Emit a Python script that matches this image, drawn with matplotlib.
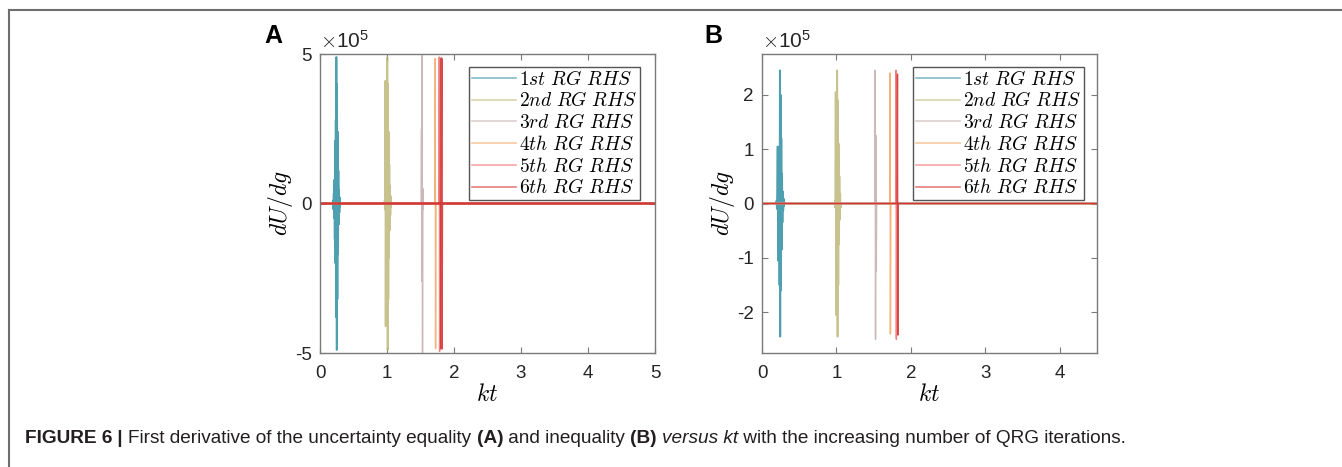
import matplotlib
matplotlib.use('Agg')
import matplotlib.pyplot as plt
from matplotlib.lines import Line2D

plt.rcParams['font.family'] = ['Liberation Sans', 'DejaVu Sans']
plt.rcParams['mathtext.fontset'] = 'cm'

SCALE = 1e5

# panel A: derivative of the uncertainty equality (values in units of 1e5)
kt_a1 = [0, 0.190, 0.195, 0.200, 0.205, 0.210, 0.215, 0.220, 0.225, 0.230, 0.235, 0.240,
         0.245, 0.250, 0.255, 0.260, 0.265, 0.270, 0.275, 0.280, 0.285, 0.290, 0.295,
         0.300, 0.305, 5.0]
du_a1 = [0, 0, 0.1, -0.2, 0.35, -0.5, 0.8, -1.2, 2.1, -2.0, 2.8, -3.8,
         4.9, -4.9, 4.0, -3.2, 2.4, -1.7, 1.1, -0.7, 0.45, -0.3, 0.2,
         -0.1, 0, 0]
kt_a2 = [0, 0.960, 0.965, 0.970, 0.975, 0.980, 0.985, 0.990, 0.995, 1.000, 1.005, 1.010,
         1.015, 1.020, 1.025, 1.030, 1.035, 1.040, 1.045, 1.050, 1.055, 1.060, 1.065, 5.0]
du_a2 = [0, 0, 0.1, -0.2, 4.1, -4.1, 0.6, -1.0, 1.6, -3.0, 4.9, -4.9,
         4.0, -3.2, 2.4, -1.8, 1.3, -0.9, 0.6, -0.4, 0.25, -0.12, 0, 0]
kt_a3 = [0, 1.505, 1.510, 1.515, 1.520, 1.525, 1.530, 1.535, 1.540, 1.545, 5.0]
du_a3 = [0, 0, 0.1, 2.5, -2.6, 4.95, -5.0, 0.5, -0.2, 0, 0]
kt_a4 = [0, 1.715, 1.72, 1.725, 1.73, 5.0]
du_a4 = [0, 0, 4.85, -4.85, 0, 0]
kt_a5 = [0, 1.775, 1.78, 1.785, 1.79, 5.0]
du_a5 = [0, 0, 4.9, -4.95, 0, 0]
kt_a6 = [0, 1.805, 1.81, 1.815, 1.82, 5.0]
du_a6 = [0, 0, 4.85, -4.85, 0, 0]

# panel B: derivative of the uncertainty inequality
kt_b1 = [0, 0.190, 0.195, 0.200, 0.205, 0.210, 0.215, 0.220, 0.225, 0.230, 0.235, 0.240,
         0.245, 0.250, 0.255, 0.260, 0.265, 0.270, 0.275, 0.280, 0.285, 0.290,
         0.295, 0.300, 0.305, 4.5]
du_b1 = [0, 0, 0.05, -0.1, 0.18, 1.05, -1.05, 0.4, -0.6, 0.9, -1.5, 2.45,
         -2.45, 2.0, -1.6, 1.2, -0.85, 0.55, -0.35, 0.22, -0.14, 0.09,
         -0.05, 0.02, 0, 0]
kt_b2 = [0, 0.975, 0.980, 0.985, 0.990, 0.995, 1.000, 1.005, 1.010, 1.015, 1.020, 1.025,
         1.030, 1.035, 1.040, 1.045, 1.050, 1.055, 1.060, 4.5]
du_b2 = [0, 0, 0.05, -0.08, 2.05, -2.05, 0.73, -0.75, 2.45, -2.45, 1.9, -1.5,
         1.1, -0.75, 0.5, -0.3, 0.18, -0.08, 0, 0]
kt_b3 = [0, 1.515, 1.52, 1.525, 1.53, 1.535, 1.54, 4.5]
du_b3 = [0, 0, 2.45, -2.5, 1.25, -1.25, 0, 0]
kt_b4 = [0, 1.715, 1.72, 1.725, 1.73, 4.5]
du_b4 = [0, 0, 2.4, -2.4, 0, 0]
kt_b5 = [0, 1.795, 1.80, 1.805, 1.81, 4.5]
du_b5 = [0, 0, 2.45, -2.5, 0, 0]
kt_b6 = [0, 1.815, 1.82, 1.825, 1.83, 4.5]
du_b6 = [0, 0, 2.38, -2.42, 0, 0]

labels = [r'$1st\ RG\ RHS$', r'$2nd\ RG\ RHS$', r'$3rd\ RG\ RHS$',
          r'$4th\ RG\ RHS$', r'$5th\ RG\ RHS$', r'$6th\ RG\ RHS$']
colors = ['#2f8fa3', '#bdb87a', '#c4acac', '#f4a460', '#f06a6a', '#d42a2a']

series_a = [(kt_a1, du_a1), (kt_a2, du_a2), (kt_a3, du_a3),
            (kt_a4, du_a4), (kt_a5, du_a5), (kt_a6, du_a6)]
series_b = [(kt_b1, du_b1), (kt_b2, du_b2), (kt_b3, du_b3),
            (kt_b4, du_b4), (kt_b5, du_b5), (kt_b6, du_b6)]

W, H = 1342, 467
fig = plt.figure(figsize=(W / 100, H / 100), dpi=100)

spine_col = '#7a7a7a'


def style_axes(ax):
    for sp in ax.spines.values():
        sp.set_color(spine_col)
        sp.set_linewidth(1.0)
    ax.tick_params(direction='in', top=True, right=True, labelsize=13.5,
                   colors='#262626', length=4, width=0.8)
    ax.tick_params(axis='x', pad=9)
    ax.tick_params(axis='y', pad=6)
    ax.tick_params(axis='both', color=spine_col)
    ax.set_xlabel(r'$kt$', fontsize=17, labelpad=1)
    ax.set_ylabel(r'$dU/dg$', fontsize=17, labelpad=0)


def draw_panel(ax, series, lws):
    for (kt, du), col, lab, lw in zip(series, colors, labels, lws):
        ax.plot(kt, [v * SCALE for v in du], color=col, lw=lw, alpha=0.85, label=lab)
    leg = ax.legend(loc='upper right', fontsize=14, handlelength=2.25,
                    handletextpad=0.15, labelspacing=0.14, borderpad=0.15,
                    fancybox=False, framealpha=1.0, borderaxespad=0)
    leg.get_frame().set_edgecolor('#555555')
    leg.get_frame().set_linewidth(1.0)
    for h in leg.get_lines():
        h.set_linewidth(1.2)
        h.set_alpha(0.6)
    return leg


# panel A
axA = fig.add_axes([320 / W, 1 - 353 / H, 335 / W, 299 / H])
legA = draw_panel(axA, series_a, [1.3, 1.3, 1.0, 1.0, 1.0, 1.8])
legA.set_bbox_to_anchor((0.955, 0.957), transform=axA.transAxes)
axA.set_xlim(0, 5)
axA.set_ylim(-5 * SCALE, 5 * SCALE)
axA.set_xticks([0, 1, 2, 3, 4, 5])
axA.set_yticks([-5 * SCALE, 0, 5 * SCALE])
axA.set_yticklabels(['-5', '0', '5'])
style_axes(axA)

# panel B
axB = fig.add_axes([762 / W, 1 - 353 / H, 335 / W, 299 / H])
legB = draw_panel(axB, series_b, [1.3, 1.3, 1.0, 1.0, 1.0, 1.0])
legB.set_bbox_to_anchor((0.962, 0.957), transform=axB.transAxes)
axB.set_xlim(0, 4.5)
axB.set_ylim(-2.75 * SCALE, 2.75 * SCALE)
axB.set_xticks([0, 1, 2, 3, 4])
axB.set_yticks([v * SCALE for v in [-2, -1, 0, 1, 2]])
axB.set_yticklabels(['-2', '-1', '0', '1', '2'])
style_axes(axB)

for ax in (axA, axB):
    ax.text(0.0, 1.008, r'$\times\mathregular{10^{5}}$', transform=ax.transAxes,
            fontsize=15, color='#262626', ha='left', va='bottom')

fig.text(273 / W, 1 - 36 / H, 'A', fontsize=18, fontweight='bold', ha='center', va='center')
fig.text(713 / W, 1 - 36 / H, 'B', fontsize=18, fontweight='bold', ha='center', va='center')

# frame around the figure block
frame_col = '#6e6e6e'
fig.add_artist(Line2D([9 / W, 1.0], [1 - 10 / H, 1 - 10 / H], transform=fig.transFigure,
                      color=frame_col, lw=1.5))
fig.add_artist(Line2D([9 / W, 9 / W], [0.0, 1 - 10 / H], transform=fig.transFigure,
                      color=frame_col, lw=1.5))

# caption, laid out piece by piece
caption = [('FIGURE 6', 'bold', 'normal'), (' | ', 'bold', 'normal'),
           ('First derivative of the uncertainty equality ', 'normal', 'normal'),
           ('(A)', 'bold', 'normal'), (' and inequality ', 'normal', 'normal'),
           ('(B)', 'bold', 'normal'), (' ', 'normal', 'normal'),
           ('versus kt', 'normal', 'italic'),
           (' with the increasing number of QRG iterations.', 'normal', 'normal')]
renderer = fig.canvas.get_renderer()
x = 25
for txt, weight, style in caption:
    t = fig.text(x / W, 1 - 443 / H, txt, fontsize=13.7, fontweight=weight,
                 fontstyle=style, color='#231f20', ha='left', va='baseline')
    bb = t.get_window_extent(renderer)
    x += bb.width

fig.savefig('out.png', dpi=100)
